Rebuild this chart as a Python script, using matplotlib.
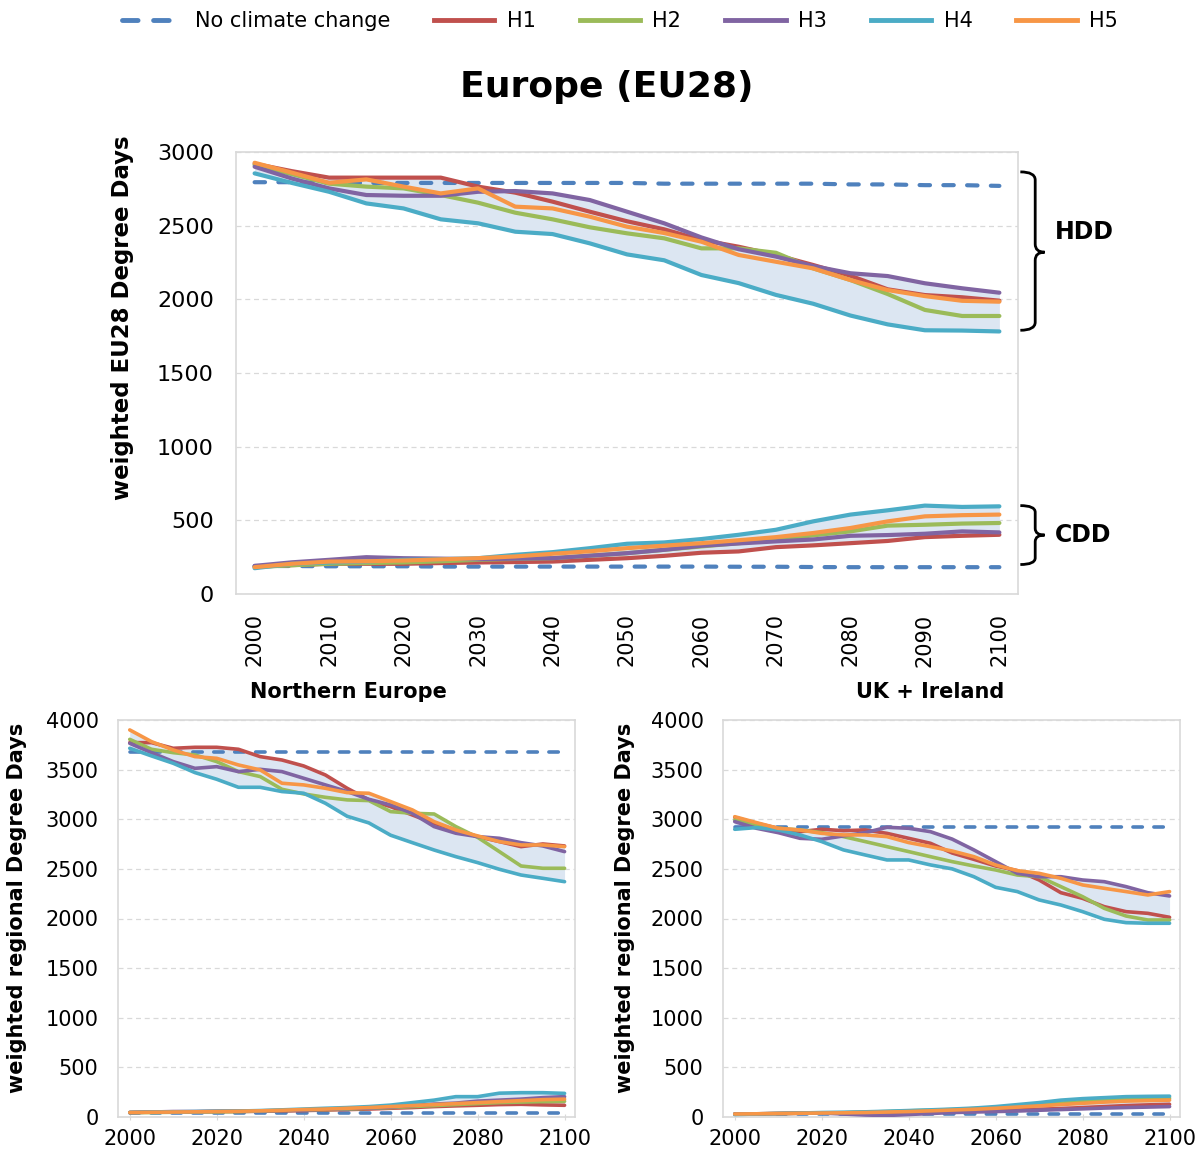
import matplotlib
matplotlib.use('Agg')
import matplotlib.pyplot as plt
from matplotlib.path import Path
from matplotlib.patches import PathPatch
from matplotlib.lines import Line2D
import numpy as np

plt.rcParams['font.family'] = ['DejaVu Sans']

years = [2000, 2005, 2010, 2015, 2020, 2025, 2030, 2035, 2040, 2045, 2050,
         2055, 2060, 2065, 2070, 2075, 2080, 2085, 2090, 2095, 2100]
scenarios = ['H1', 'H2', 'H3', 'H4', 'H5']

# Europe (EU28) heating degree days
eu_hdd_nocc = [2795, 2795, 2790, 2790, 2790, 2790, 2790, 2790, 2790, 2790, 2790,
               2785, 2785, 2785, 2785, 2785, 2780, 2780, 2775, 2775, 2770]
eu_hdd_h1 = [2920, 2870, 2826, 2826, 2826, 2826, 2765, 2724, 2663, 2595, 2530,
             2475, 2403, 2357, 2301, 2233, 2160, 2068, 2029, 2014, 1991]
eu_hdd_h2 = [2912, 2850, 2785, 2765, 2753, 2708, 2656, 2588, 2543, 2489, 2448,
             2414, 2346, 2346, 2316, 2210, 2131, 2036, 1928, 1887, 1887]
eu_hdd_h3 = [2900, 2820, 2753, 2708, 2703, 2703, 2730, 2735, 2719, 2674, 2595,
             2516, 2420, 2340, 2290, 2226, 2177, 2158, 2109, 2075, 2045]
eu_hdd_h4 = [2855, 2790, 2730, 2651, 2617, 2543, 2516, 2459, 2443, 2380, 2305,
             2265, 2165, 2110, 2030, 1970, 1890, 1830, 1790, 1788, 1782]
eu_hdd_h5 = [2927, 2860, 2791, 2814, 2765, 2719, 2753, 2629, 2617, 2561, 2493,
             2450, 2391, 2301, 2255, 2210, 2131, 2063, 2022, 1990, 1984]

# Europe (EU28) cooling degree days
eu_cdd_nocc = [190, 190, 188, 188, 188, 186, 186, 186, 186, 186, 186,
               186, 186, 185, 185, 183, 182, 182, 182, 182, 182]
eu_cdd_h1 = [186, 196, 205, 205, 205, 210, 214, 217, 220, 232, 243,
             259, 280, 289, 318, 330, 345, 360, 386, 395, 402]
eu_cdd_h2 = [182, 195, 205, 210, 214, 222, 232, 238, 243, 260, 277,
             300, 323, 345, 368, 398, 425, 464, 470, 478, 482]
eu_cdd_h3 = [191, 215, 232, 250, 243, 240, 236, 240, 243, 260, 277,
             300, 327, 343, 357, 370, 395, 400, 409, 425, 418]
eu_cdd_h4 = [175, 205, 214, 220, 232, 236, 243, 266, 284, 311, 341,
             350, 373, 402, 436, 493, 539, 568, 600, 591, 595]
eu_cdd_h5 = [182, 205, 220, 222, 227, 235, 243, 255, 273, 290, 311,
             328, 345, 365, 386, 414, 448, 493, 527, 535, 539]

# Northern Europe
ne_hdd_nocc = [3680, 3680, 3680, 3680, 3680, 3680, 3680, 3680, 3680, 3680, 3680,
               3680, 3680, 3680, 3680, 3680, 3680, 3680, 3680, 3680, 3680]
ne_hdd_h1 = [3772, 3772, 3715, 3725, 3725, 3705, 3631, 3597, 3537, 3446, 3312,
             3195, 3127, 3043, 2959, 2892, 2825, 2775, 2724, 2751, 2731]
ne_hdd_h2 = [3805, 3705, 3671, 3648, 3581, 3480, 3430, 3302, 3255, 3221, 3195,
             3188, 3077, 3060, 3053, 2926, 2818, 2674, 2529, 2506, 2506]
ne_hdd_h3 = [3765, 3671, 3581, 3513, 3530, 3480, 3503, 3480, 3413, 3346, 3279,
             3201, 3144, 3060, 2926, 2859, 2825, 2808, 2764, 2731, 2674]
ne_hdd_h4 = [3715, 3638, 3564, 3470, 3403, 3322, 3322, 3279, 3262, 3161, 3030,
             2963, 2839, 2764, 2690, 2623, 2563, 2496, 2438, 2405, 2371]
ne_hdd_h5 = [3900, 3782, 3698, 3631, 3614, 3547, 3497, 3363, 3346, 3312, 3268,
             3262, 3178, 3094, 2976, 2892, 2832, 2775, 2741, 2741, 2724]
ne_cdd_nocc = [38, 38, 38, 38, 38, 38, 38, 38, 38, 38, 38,
               38, 38, 38, 38, 38, 38, 38, 38, 38, 38]
ne_cdd_h1 = [45, 50, 48, 52, 55, 55, 58, 60, 65, 70, 75,
             80, 88, 95, 105, 112, 118, 125, 128, 122, 118]
ne_cdd_h2 = [45, 45, 48, 50, 52, 55, 60, 65, 70, 75, 80,
             88, 95, 105, 115, 125, 135, 145, 150, 155, 158]
ne_cdd_h3 = [45, 50, 55, 55, 58, 60, 62, 65, 70, 78, 85,
             90, 100, 115, 130, 140, 160, 170, 180, 195, 205]
ne_cdd_h4 = [45, 50, 52, 55, 58, 60, 65, 72, 80, 88, 95,
             105, 120, 145, 170, 205, 205, 240, 245, 245, 238]
ne_cdd_h5 = [45, 48, 50, 52, 55, 58, 62, 68, 75, 80, 88,
             95, 105, 115, 125, 135, 145, 155, 165, 175, 180]

# UK + Ireland
uk_hdd_nocc = [2920, 2920, 2920, 2920, 2920, 2920, 2920, 2920, 2920, 2920, 2920,
               2920, 2920, 2920, 2920, 2920, 2920, 2920, 2920, 2920, 2920]
uk_hdd_h1 = [3019, 2959, 2909, 2875, 2899, 2885, 2892, 2858, 2808, 2758, 2660,
             2596, 2529, 2482, 2388, 2260, 2203, 2119, 2069, 2052, 2012]
uk_hdd_h2 = [2993, 2942, 2909, 2892, 2865, 2825, 2775, 2724, 2674, 2623, 2573,
             2529, 2489, 2438, 2421, 2321, 2220, 2102, 2025, 1985, 1985]
uk_hdd_h3 = [2976, 2909, 2865, 2808, 2798, 2832, 2865, 2919, 2909, 2875, 2800,
             2691, 2573, 2455, 2421, 2421, 2388, 2371, 2321, 2260, 2227]
uk_hdd_h4 = [2899, 2916, 2892, 2842, 2775, 2691, 2640, 2590, 2590, 2540, 2500,
             2421, 2314, 2271, 2187, 2136, 2069, 1992, 1958, 1952, 1952]
uk_hdd_h5 = [3026, 2966, 2909, 2892, 2858, 2842, 2842, 2825, 2765, 2724, 2680,
             2623, 2539, 2482, 2455, 2405, 2338, 2304, 2271, 2237, 2271]
uk_cdd_nocc = [35, 35, 35, 35, 35, 35, 35, 35, 35, 35, 35,
               35, 35, 35, 35, 35, 35, 35, 35, 35, 35]
uk_cdd_h1 = [30, 32, 35, 38, 40, 42, 45, 48, 50, 55, 60,
             62, 65, 70, 78, 85, 95, 105, 115, 122, 128]
uk_cdd_h2 = [30, 32, 35, 38, 40, 42, 48, 55, 62, 68, 75,
             85, 95, 110, 125, 140, 155, 170, 180, 185, 190]
uk_cdd_h3 = [30, 32, 35, 38, 40, 30, 20, 15, 25, 35, 45,
             50, 55, 60, 68, 75, 82, 90, 95, 100, 105]
uk_cdd_h4 = [25, 30, 35, 40, 45, 48, 52, 58, 65, 72, 80,
             90, 105, 125, 145, 170, 185, 195, 205, 208, 210]
uk_cdd_h5 = [30, 32, 35, 38, 40, 42, 45, 50, 55, 62, 70,
             78, 88, 100, 112, 125, 138, 150, 160, 165, 170]

NOCC_COLOR = '#4F81BD'
COLORS = ['#C0504D', '#9BBB59', '#8064A2', '#4BACC6', '#F79646']
FILL = '#dce6f2'
GRID = '#d9d9d9'


def draw_group(ax, nocc, series, lw, dash):
    arr = np.array(series)
    ax.fill_between(years, arr.min(axis=0), arr.max(axis=0), color=FILL, lw=0, zorder=1)
    ax.plot(years, nocc, color=NOCC_COLOR, lw=lw, linestyle=(0, dash),
            dash_capstyle='round', zorder=2)
    for s, c in zip(series, COLORS):
        ax.plot(years, s, color=c, lw=lw, solid_capstyle='round', zorder=3)


def style(ax, fs, ypad):
    for sp in ax.spines.values():
        sp.set_color(GRID)
        sp.set_linewidth(1.2)
    ax.grid(axis='y', color=GRID, linestyle=(0, (4, 3)), linewidth=0.9)
    ax.set_axisbelow(True)
    ax.tick_params(axis='y', length=0, pad=ypad, labelsize=fs)


def brace(ax, ytop, ybot, ymid, d, label, ylab):
    x0, x1, x2 = 1.003, 1.022, 1.034
    verts = [(x0, ytop), (x1, ytop), (x1, ytop - d), (x1, ymid + d),
             (x1, ymid), (x2, ymid), (x1, ymid), (x1, ymid - d),
             (x1, ybot + d), (x1, ybot), (x0, ybot)]
    codes = [Path.MOVETO, Path.CURVE3, Path.CURVE3, Path.LINETO,
             Path.CURVE3, Path.CURVE3, Path.CURVE3, Path.CURVE3,
             Path.LINETO, Path.CURVE3, Path.CURVE3]
    patch = PathPatch(Path(verts, codes), fill=False, lw=2, color='black',
                      transform=ax.get_yaxis_transform(), clip_on=False)
    ax.add_patch(patch)
    ax.text(1.047, ylab, label, transform=ax.get_yaxis_transform(),
            fontsize=17, fontweight='bold', va='center', ha='left')


fig = plt.figure(figsize=(12.04, 11.57), dpi=100)
W, H = 1204, 1157

# main chart
ax = fig.add_axes([236 / W, 1 - 594 / H, 782 / W, 442 / H])
draw_group(ax, eu_hdd_nocc, [eu_hdd_h1, eu_hdd_h2, eu_hdd_h3, eu_hdd_h4, eu_hdd_h5], 3, (2.5, 3.2))
draw_group(ax, eu_cdd_nocc, [eu_cdd_h1, eu_cdd_h2, eu_cdd_h3, eu_cdd_h4, eu_cdd_h5], 3, (2.5, 3.2))
ax.set_xlim(1997.5, 2102.5)
ax.set_ylim(0, 3000)
ax.set_yticks(range(0, 3001, 500))
ax.set_xticks(range(2000, 2101, 10))
style(ax, 16, 16)
ax.tick_params(axis='x', length=0, pad=14, labelsize=15, labelrotation=90)
brace(ax, 2865, 1790, 2320, 55, 'HDD', 2460)
brace(ax, 600, 200, 400, 45, 'CDD', 400)
fig.text(122 / W, 1 - 318 / H, 'weighted EU28 Degree Days', rotation=90,
         fontsize=16.5, fontweight='bold', ha='center', va='center')

fig.text(607 / W, 1 - 87 / H, 'Europe (EU28)', fontsize=26, fontweight='bold',
         ha='center', va='center')

# regional charts
regions = [
    ('Northern Europe', 118, 348, 17, ne_hdd_nocc,
     [ne_hdd_h1, ne_hdd_h2, ne_hdd_h3, ne_hdd_h4, ne_hdd_h5], ne_cdd_nocc,
     [ne_cdd_h1, ne_cdd_h2, ne_cdd_h3, ne_cdd_h4, ne_cdd_h5]),
    ('UK + Ireland', 723, 930, 625, uk_hdd_nocc,
     [uk_hdd_h1, uk_hdd_h2, uk_hdd_h3, uk_hdd_h4, uk_hdd_h5], uk_cdd_nocc,
     [uk_cdd_h1, uk_cdd_h2, uk_cdd_h3, uk_cdd_h4, uk_cdd_h5]),
]
for title, left, tx, lx, hn, hs, cn, cs in regions:
    a = fig.add_axes([left / W, 1 - 1117 / H, 457 / W, 397 / H])
    draw_group(a, hn, hs, 2.6, (2.6, 3.2))
    draw_group(a, cn, cs, 2.6, (2.6, 3.2))
    a.set_xlim(1997.3, 2102.4)
    a.set_ylim(0, 4000)
    a.set_yticks(range(0, 4001, 500))
    a.set_xticks(range(2000, 2101, 20))
    style(a, 15, 14)
    a.tick_params(axis='x', length=5, direction='inout', color=GRID,
                  pad=6, labelsize=15)
    fig.text(tx / W, 1 - 692 / H, title, fontsize=15, fontweight='bold',
             ha='center', va='center')
    fig.text(lx / W, 1 - 908 / H, 'weighted regional Degree Days', rotation=90,
             fontsize=15, fontweight='bold', ha='center', va='center')

# legend
handles = [Line2D([], [], color=NOCC_COLOR, lw=3.5, linestyle=(0, (3.2, 3.2)),
                  dash_capstyle='round')]
handles += [Line2D([], [], color=c, lw=3.5) for c in COLORS]
labels = ['No climate change'] + scenarios
fig.legend(handles, labels, loc='center', bbox_to_anchor=(620 / W, 1 - 21 / H),
           ncol=6, frameon=False, fontsize=15, handlelength=2.9,
           handletextpad=0.6, columnspacing=2.1)

fig.savefig('out.png', dpi=100)
